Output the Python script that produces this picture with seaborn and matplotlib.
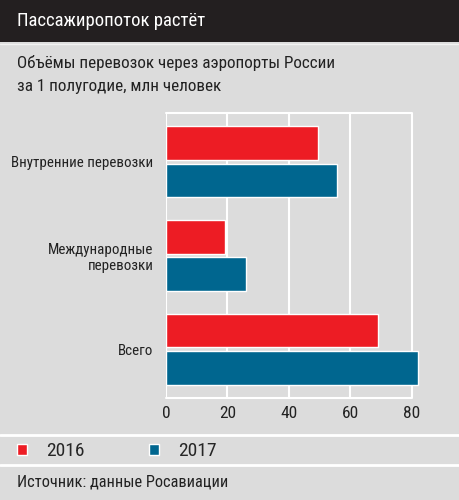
import matplotlib
matplotlib.use("Agg")
import matplotlib.pyplot as plt
import seaborn as sns
import pandas as pd

# данные
categories = ["Внутренние перевозки", "Международные\nперевозки", "Всего"]
years = ["2016", "2017"]
values_2016 = [49.4, 19.2, 68.9]
values_2017 = [55.7, 26.1, 82.0]
xticks = [0, 20, 40, 60, 80]

colors = {"2016": "#ed1c24", "2017": "#00668f"}
bg = "#dcdcdc"
dark = "#231f20"
txt = "#222222"

df = pd.DataFrame({
    "cat": categories * 2,
    "year": [years[0]] * 3 + [years[1]] * 3,
    "value": values_2016 + values_2017,
})

sns.set_theme(style="white")
plt.rcParams["font.family"] = ["Liberation Sans Narrow", "Roboto Condensed", "DejaVu Sans"]

fig = plt.figure(figsize=(4.59, 5.0), dpi=100)
fig.patch.set_facecolor(bg)

# шапка
fig.patches.append(plt.Rectangle((0, 1 - 42 / 500), 1, 42 / 500, transform=fig.transFigure,
                                 facecolor=dark, edgecolor="none"))
fig.lines.append(plt.Line2D([0, 1], [1 - 43.5 / 500] * 2, transform=fig.transFigure, color="#f2f2f2", lw=1))
fig.text(17 / 459, 1 - 21 / 500, "Пассажиропоток растёт", color="white", fontsize=13.5, va="center")
fig.text(17 / 459, 1 - 63 / 500, "Объёмы перевозок через аэропорты России", color=txt, fontsize=12.3, va="center")
fig.text(17 / 459, 1 - 87 / 500, "за 1 полугодие, млн человек", color=txt, fontsize=12.3, va="center")

# разделители
for y in (435, 465):
    fig.lines.append(plt.Line2D([0, 1], [1 - y / 500] * 2, transform=fig.transFigure, color="white", lw=2))

ax = fig.add_axes([166 / 459, 1 - 398 / 500, 255 / 459, 285 / 500])
ax.set_facecolor(bg)
sns.barplot(data=df, y="cat", x="value", hue="year", palette=colors, orient="h",
            width=0.8, gap=0.1, saturation=1, ax=ax, zorder=3)

ax.set_xlim(0, 83)
ax.set_xticks(xticks)
ax.grid(axis="x", color="white", lw=1.5, zorder=0)
for yy in (0, 1):
    ax.plot([0, 80], [yy, yy], transform=ax.get_xaxis_transform(), color="white", lw=1.5, zorder=0, clip_on=False)
for s in ax.spines.values():
    s.set_visible(False)
ax.set_xlabel("")
ax.set_ylabel("")
ax.tick_params(axis="both", length=0, colors=txt)
ax.tick_params(axis="y", pad=9, labelsize=10.8)
ax.tick_params(axis="x", pad=6, labelsize=12.5)
for t in ax.get_yticklabels():
    t.set_ha("right")
    t.set_multialignment("right")

sns.move_legend(ax, loc="center left", bbox_to_anchor=(17 / 459, 1 - 451 / 500),
                bbox_transform=fig.transFigure, ncol=2, frameon=False, title=None,
                fontsize=14, handlelength=0.5, handleheight=0.5, columnspacing=3.3,
                handletextpad=1.0, borderpad=0, borderaxespad=0)

fig.text(17 / 459, 1 - 482 / 500, "Источник: данные Росавиации", color=txt, fontsize=11.8, va="center")

fig.savefig("out.png", dpi=100, facecolor=bg)
